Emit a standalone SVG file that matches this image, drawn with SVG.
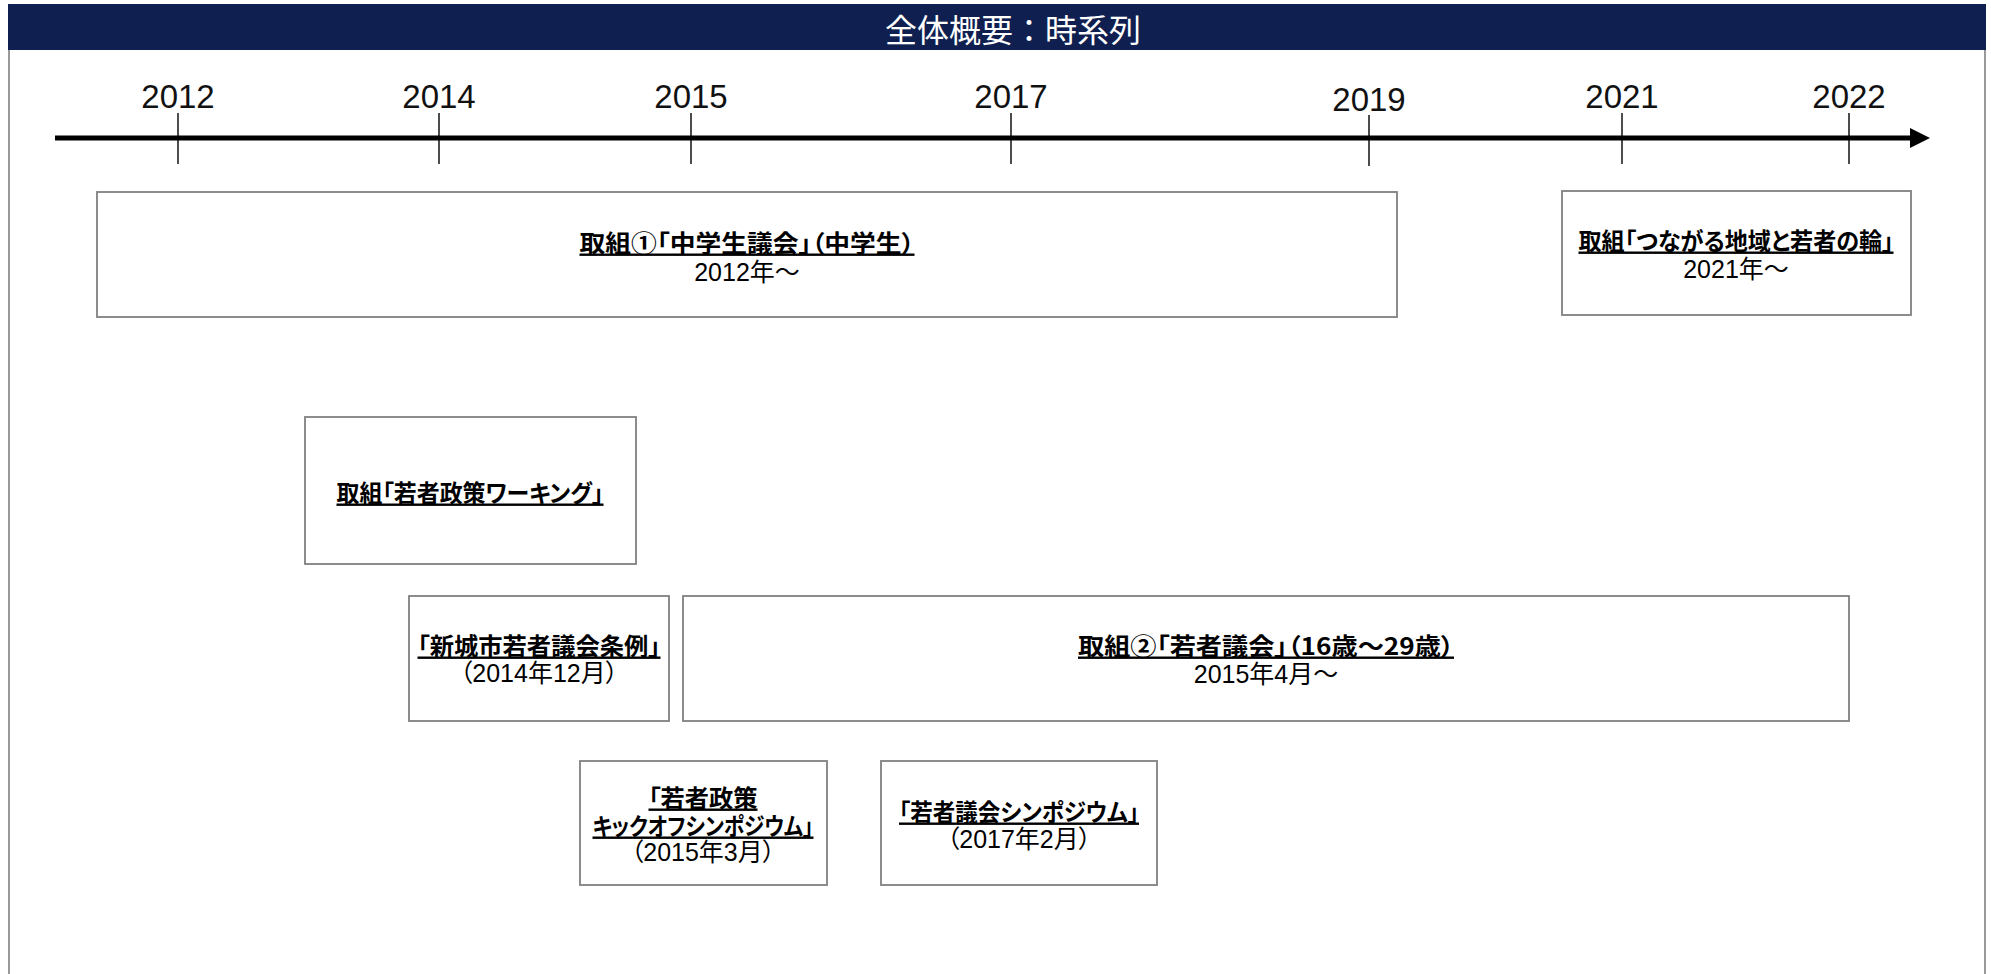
<svg xmlns="http://www.w3.org/2000/svg" width="1991" height="974" viewBox="0 0 1991 974">
<style>
.frame{fill:#fff;stroke:#999;stroke-width:2}
.box{fill:#fff;stroke:#808080;stroke-width:1.8}
.tick{stroke:#000;stroke-width:1.4}
.yr{font-family:"Liberation Sans","Noto Sans CJK JP",sans-serif;font-size:33px;fill:#111;text-anchor:middle;dominant-baseline:central}
.t{font-family:"Liberation Sans","Noto Sans CJK JP",sans-serif;font-size:25px;fill:#000;text-anchor:middle;dominant-baseline:central;font-feature-settings:"palt"}
.b{font-family:"Noto Sans CJK JP",sans-serif;font-size:24px;font-weight:bold;text-decoration:underline}
.title{font-family:"Noto Sans CJK JP",sans-serif;font-size:32px;fill:#fff;text-anchor:middle;dominant-baseline:central}
</style>
<rect class="frame" x="9" y="5" width="1976" height="1000"/>
<rect x="8" y="4" width="1978" height="46" fill="#0f2050"/>
<text class="title" x="1013" y="28">全体概要：時系列</text>
<g id="connectors">
<line x1="55" y1="138" x2="1912" y2="138" stroke="#000" stroke-width="5"/>
<polygon points="1910,128 1930,138 1910,148" fill="#000"/>
<line class="tick" x1="178" y1="113" x2="178" y2="164"/>
<line class="tick" x1="439" y1="113" x2="439" y2="164"/>
<line class="tick" x1="691" y1="113" x2="691" y2="164"/>
<line class="tick" x1="1011" y1="113" x2="1011" y2="164"/>
<line class="tick" x1="1369" y1="115" x2="1369" y2="166"/>
<line class="tick" x1="1622" y1="113" x2="1622" y2="164"/>
<line class="tick" x1="1849" y1="113" x2="1849" y2="164"/>
</g>
<g id="years">
<text class="yr" x="178" y="96">2012</text>
<text class="yr" x="439" y="96">2014</text>
<text class="yr" x="691" y="96">2015</text>
<text class="yr" x="1011" y="96">2017</text>
<text class="yr" x="1369" y="99">2019</text>
<text class="yr" x="1622" y="96">2021</text>
<text class="yr" x="1849" y="96">2022</text>
</g>
<g id="node-chugakusei">
<rect class="box" x="97" y="192" width="1300" height="125"/>
<text class="t b" x="747" y="241" textLength="335" lengthAdjust="spacingAndGlyphs">取組①「中学生議会」（中学生）</text>
<text class="t" x="747" y="272">2012年～</text>
</g>
<g id="node-tsunagaru">
<rect class="box" x="1562" y="191" width="349" height="124"/>
<text class="t b" x="1736" y="239" textLength="315" lengthAdjust="spacingAndGlyphs">取組「つながる地域と若者の輪」</text>
<text class="t" x="1736" y="269">2021年～</text>
</g>
<g id="node-working">
<rect class="box" x="305" y="417" width="331" height="147"/>
<text class="t b" x="470" y="491" textLength="267" lengthAdjust="spacingAndGlyphs">取組「若者政策ワーキング」</text>
</g>
<g id="node-jorei">
<rect class="box" x="409" y="596" width="260" height="125"/>
<text class="t b" x="539" y="644" textLength="243" lengthAdjust="spacingAndGlyphs">「新城市若者議会条例」</text>
<text class="t" x="539" y="673">（2014年12月）</text>
</g>
<g id="node-wakamono-gikai">
<rect class="box" x="683" y="596" width="1166" height="125"/>
<text class="t b" x="1266" y="644" textLength="376" lengthAdjust="spacingAndGlyphs">取組②「若者議会」（16歳～29歳）</text>
<text class="t" x="1266" y="674">2015年4月～</text>
</g>
<g id="node-kickoff">
<rect class="box" x="580" y="761" width="247" height="124"/>
<text class="t b" x="703" y="796" textLength="109" lengthAdjust="spacingAndGlyphs">「若者政策</text>
<text class="t b" x="703" y="824" textLength="221" lengthAdjust="spacingAndGlyphs">キックオフシンポジウム」</text>
<text class="t" x="703" y="852">（2015年3月）</text>
</g>
<g id="node-symposium">
<rect class="box" x="881" y="761" width="276" height="124"/>
<text class="t b" x="1019" y="810" textLength="240" lengthAdjust="spacingAndGlyphs">「若者議会シンポジウム」</text>
<text class="t" x="1019" y="839">（2017年2月）</text>
</g>
</svg>
